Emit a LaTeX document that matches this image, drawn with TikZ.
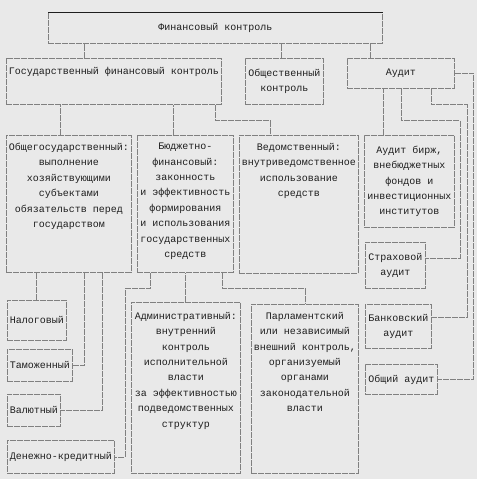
\documentclass[tikz,border=0pt]{standalone}
\usepackage{fontspec}
\setmainfont{Liberation Mono}
\usetikzlibrary{positioning}

\definecolor{bggray}{RGB}{233,233,233}
\definecolor{linegray}{RGB}{128,128,128}
\definecolor{inkgray}{RGB}{30,30,30}

\begin{document}
\begin{tikzpicture}
[
	x=1pt, y=-1pt,
	box/.style={draw=linegray,dash pattern=on 6pt off 1pt,line width=0.8pt,inner sep=0pt,anchor=north west,align=center,font=\fontsize{10}{15.4}\selectfont,text=inkgray},
	txt/.style={inner sep=0pt,align=center,font=\fontsize{10}{15.4}\selectfont,text=inkgray},
	link/.style={draw=linegray,dash pattern=on 6pt off 1pt,line width=0.8pt}
]

	% background
	\fill[bggray] (0,0) rectangle (477,479);
	\useasboundingbox (0,0) rectangle (477,479);

	% top level
	\node[box,minimum width=334pt,minimum height=31pt] (fin) at (48,12) {Финансовый контроль};
	\draw[inkgray,line width=0.8pt] (fin.north west) -- (fin.north east);

	% second level
	\node[box,minimum width=215pt,minimum height=46pt] (gos) at (6,58) {};
	\node[txt,below=9pt of gos.north] (gos-t) {Государственный финансовый контроль};
	\node[box,minimum width=78pt,minimum height=46pt] (obsh) at (245,58) {Общественный\\контроль};
	\node[box,minimum width=107pt,minimum height=30pt] (audit) at (347,58) {Аудит};

	% state control
	\node[box,minimum width=125pt,minimum height=137pt] (obgos) at (6,135) {};
	\node[txt,below=8pt of obgos.north] (obgos-t) {Общегосударственный:\\выполнение\\хозяйствующими\\субъектами\\обязательств перед\\государством};
	\node[box,minimum width=96pt,minimum height=137pt] (budg) at (137,135) {};
	\node[txt,below=8pt of budg.north] (budg-t) {Бюджетно-\\финансовый:\\законность\\и эффективность\\формирования\\и использования\\государственных\\средств};
	\node[box,minimum width=119pt,minimum height=138pt] (ved) at (239,135) {};
	\node[txt,below=8pt of ved.north] (ved-t) {Ведомственный:\\внутриведомственное\\использование\\средств};

	% audit
	\node[box,minimum width=90pt,minimum height=92pt] (birzh) at (364,135) {Аудит бирж,\\внебюджетных\\фондов и\\инвестиционных\\институтов};
	\node[box,minimum width=60pt,minimum height=46pt] (strah) at (365,242) {Страховой\\аудит};
	\node[box,minimum width=66pt,minimum height=44pt] (bank) at (365,304) {Банковский\\аудит};
	\node[box,minimum width=72pt,minimum height=30pt] (obshaud) at (365,364) {Общий аудит};

	% lower level
	\node[box,minimum width=59pt,minimum height=40pt] (nalog) at (7,300) {Налоговый};
	\node[box,minimum width=65pt,minimum height=32pt] (tamozh) at (7,349) {Таможенный};
	\node[box,minimum width=53pt,minimum height=32pt] (valut) at (7,394) {Валютный};
	\node[box,minimum width=107pt,minimum height=33pt] (denezh) at (7,440) {Денежно-кредитный};
	\node[box,minimum width=109pt,minimum height=171pt] (admin) at (131,302) {};
	\node[txt,below=10pt of admin.north] (admin-t) {Административный:\\внутренний\\контроль\\исполнительной\\власти\\за эффективностью\\подведомственных\\структур};
	\node[box,minimum width=107pt,minimum height=169pt] (parl) at (251,304) {};
	\node[txt,below=8pt of parl.north] (parl-t) {Парламентский\\или независимый\\внешний контроль,\\организуемый\\органами\\законодательной\\власти};

	% links from the top
	\draw[link] ([xshift=78pt]gos.north west) -- ([xshift=78pt]gos.north west |- fin.south);
	\draw[link] ([xshift=36pt]obsh.north west) -- ([xshift=36pt]obsh.north west |- fin.south);
	\draw[link] ([xshift=23pt]audit.north west) -- ([xshift=23pt]audit.north west |- fin.south);

	% links of state control
	\draw[link] ([xshift=54pt]obgos.north west) -- ([xshift=54pt]obgos.north west |- gos.south);
	\draw[link] ([xshift=36pt]budg.north west) -- ([xshift=36pt]budg.north west |- gos.south);
	\draw[link] ([xshift=-6pt]gos.south east) -- ++(0,16) -| ([xshift=31pt]ved.north west);

	\draw[link] ([xshift=29pt]nalog.north west) -- ([xshift=29pt]nalog.north west |- obgos.south);
	\draw[link] ([xshift=78pt]obgos.south west) |- (tamozh.east);
	\draw[link] ([xshift=96pt]obgos.south west) |- (valut.east);
	\draw[link] ([xshift=13pt]budg.south west) -- ++(0,16) -- ++(-25,0) |- (denezh.east);
	\draw[link] ([xshift=54pt]admin.north west) -- ([xshift=54pt]admin.north west |- budg.south);
	\draw[link] ([xshift=-11pt]budg.south east) -- ++(0,16) -| ([xshift=54pt]parl.north west);

	% links of audit
	\draw[link] ([xshift=19pt]birzh.north west) -- ([xshift=19pt]birzh.north west |- audit.south);
	\draw[link] ([xshift=54pt]audit.south west) -- ++(0,32) -- ++(59,0) |- ([yshift=-16pt]strah.north east);
	\draw[link] ([xshift=84pt]audit.south west) -- ++(0,16) -- ++(36,0) |- ([yshift=-13pt]bank.north east);
	\draw[link] (audit.east) -- ++(19,0) |- (obshaud.east);

\end{tikzpicture}
\end{document}
